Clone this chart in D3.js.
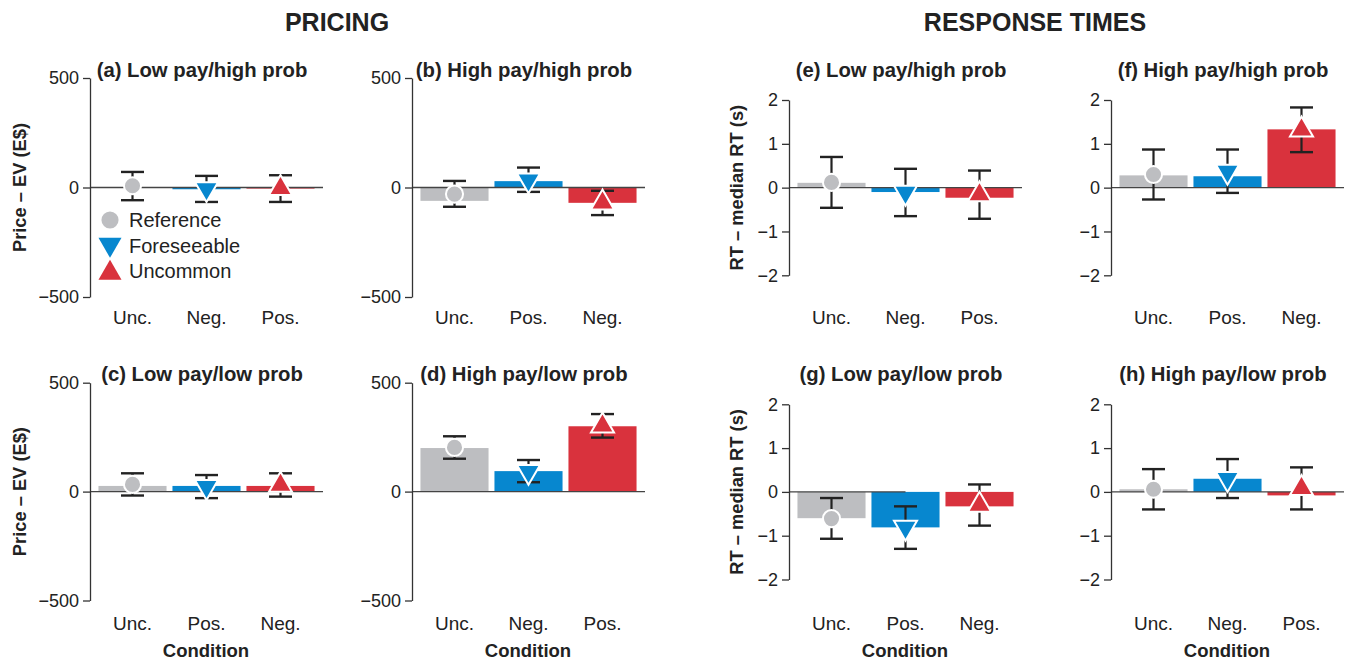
<!DOCTYPE html>
<html>
<head>
<meta charset="utf-8">
<script src="https://cdn.jsdelivr.net/npm/d3@7"></script>
<style>
  html, body { margin: 0; padding: 0; background: #fff; }
  svg { display: block; font-family: "Liberation Sans", Arial, Helvetica, sans-serif; }
</style>
</head>
<body>
<svg id="chart" width="1346" height="660"></svg>
<script>
// ---------------- DATA ----------------
const sectionTitles = ["PRICING", "RESPONSE TIMES"];
const seriesNames = ["Reference", "Foreseeable", "Uncommon"];
const panelTitles = [
  "(a) Low pay/high prob", "(b) High pay/high prob",
  "(c) Low pay/low prob",  "(d) High pay/low prob",
  "(e) Low pay/high prob", "(f) High pay/high prob",
  "(g) Low pay/low prob",  "(h) High pay/low prob"
];
const panelConditions = [
  ["Unc.", "Neg.", "Pos."], ["Unc.", "Pos.", "Neg."],
  ["Unc.", "Pos.", "Neg."], ["Unc.", "Neg.", "Pos."],
  ["Unc.", "Neg.", "Pos."], ["Unc.", "Pos.", "Neg."],
  ["Unc.", "Pos.", "Neg."], ["Unc.", "Neg.", "Pos."]
];
// bar heights (Reference, Foreseeable, Uncommon)
const barValues = [
  [2, -8, -5],       [-61, 29, -70],
  [26, 26, 26],      [200, 94, 300],
  [0.11, -0.10, -0.23], [0.28, 0.26, 1.33],
  [-0.60, -0.81, -0.33], [0.06, 0.30, -0.08]
];
// marker (mean) values
const meanValues = [
  [8, -6, -4],       [-30, 34, -70],
  [33, 23, 30],      [203, 92, 302],
  [0.12, -0.11, -0.16], [0.30, 0.37, 1.32],
  [-0.61, -0.81, -0.30], [0.06, 0.30, 0.08]
];
// error bar lower / upper ends
const ciLow = [
  [-58, -66, -66],   [-88, -20, -126],
  [-18, -30, -23],   [151, 43, 248],
  [-0.46, -0.65, -0.71], [-0.27, -0.12, 0.81],
  [-1.07, -1.30, -0.77], [-0.40, -0.14, -0.40]
];
const ciHigh = [
  [71, 53, 56],      [30, 91, -15],
  [84, 76, 84],      [254, 145, 356],
  [0.70, 0.43, 0.39], [0.87, 0.87, 1.83],
  [-0.14, -0.33, 0.17], [0.52, 0.75, 0.56]
];
const pricingDomain = [-500, 500];
const pricingTicks = [-500, 0, 500];
const rtDomain = [-2, 2];
const rtTicks = [-2, -1, 0, 1, 2];
const yLabels = ["Price – EV (E$)", "RT – median RT (s)"];
const xLabel = "Condition";
// zero line in panel (g) stops at the centre of this category
const zeroLineStop = [null, null, null, null, null, null, "Pos.", null];

// ---------------- STYLE ----------------
const colors = ["#bdbec1", "#0787cf", "#d9323d"];
const ink = "#222";

const svg = d3.select("#chart");

// section headers
[[337, 0], [1035, 1]].forEach(([cx, k]) => {
  svg.append("text").attr("x", cx).attr("y", 31)
    .attr("text-anchor", "middle").attr("font-weight", "bold")
    .attr("font-size", 25).attr("fill", ink).text(sectionTitles[k]);
});

const symbolTypes = [d3.symbolCircle, d3.symbolTriangle, d3.symbolTriangle];
const symbolRot = [0, 180, 0];
const symSize = 230;

panelTitles.forEach((title, i) => {
  const isPricing = i < 4;
  const col = i % 2;
  const row = Math.floor((i % 4) / 2);
  const ax = isPricing ? [90, 412][col] : [789, 1111][col];
  const yr = isPricing ? (row === 0 ? [297, 78] : [600.5, 382.7])
                       : (row === 0 ? [275.3, 100] : [579.5, 404.3]);
  const y = d3.scaleLinear().domain(isPricing ? pricingDomain : rtDomain).range(yr);
  const x = d3.scaleBand().domain(panelConditions[i])
    .range([ax + 5.5, ax + 227.5]).paddingInner(0.08).paddingOuter(0.04);
  const g = svg.append("g");

  // bars
  const bars = panelConditions[i].map((c, s) => ({
    c, s, v: barValues[i][s], m: meanValues[i][s], lo: ciLow[i][s], hi: ciHigh[i][s]
  }));
  g.selectAll("rect.bar").data(bars).join("rect")
    .attr("x", d => x(d.c)).attr("width", x.bandwidth())
    .attr("y", d => Math.min(y(d.v), y(0)))
    .attr("height", d => Math.abs(y(d.v) - y(0)))
    .attr("fill", d => colors[d.s]);

  // zero line
  const zEnd = zeroLineStop[i] ? x(zeroLineStop[i]) + x.bandwidth() / 2 : ax + 233;
  g.append("line").attr("x1", ax).attr("x2", zEnd)
    .attr("y1", y(0)).attr("y2", y(0))
    .attr("stroke", "#444").attr("stroke-width", 1.3);

  // y axis
  const yAxis = d3.axisLeft(y).tickValues(isPricing ? pricingTicks : rtTicks)
    .tickSize(7).tickSizeOuter(0).tickPadding(4).tickFormat(d3.format("d"));
  const ya = g.append("g").attr("transform", `translate(${ax},0)`).call(yAxis);
  ya.select(".domain").attr("stroke", "#333").attr("stroke-width", 1.3);
  ya.selectAll(".tick line").attr("stroke", "#333").attr("stroke-width", 1.3);
  ya.selectAll(".tick text").attr("font-size", 18).attr("fill", ink)
    .attr("font-family", "Liberation Sans, Arial, sans-serif");

  // x tick labels
  const xAxis = d3.axisBottom(x).tickSize(0).tickPadding(0);
  const xa = g.append("g").attr("transform", `translate(0,${row === 0 ? 310 : 616})`).call(xAxis);
  xa.select(".domain").remove();
  xa.selectAll(".tick text").attr("font-size", 19).attr("fill", ink)
    .attr("font-family", "Liberation Sans, Arial, sans-serif");

  // error bars
  const cw = 11.5;
  const eb = g.selectAll("g.err").data(bars).join("g")
    .attr("transform", d => `translate(${x(d.c) + x.bandwidth() / 2},0)`);
  eb.append("line").attr("x1", 0).attr("x2", 0)
    .attr("y1", d => y(d.lo)).attr("y2", d => y(d.hi))
    .attr("stroke", ink).attr("stroke-width", 2.2);
  eb.append("line").attr("x1", -cw).attr("x2", cw)
    .attr("y1", d => y(d.lo)).attr("y2", d => y(d.lo))
    .attr("stroke", ink).attr("stroke-width", 2.4);
  eb.append("line").attr("x1", -cw).attr("x2", cw)
    .attr("y1", d => y(d.hi)).attr("y2", d => y(d.hi))
    .attr("stroke", ink).attr("stroke-width", 2.4);

  // markers
  g.selectAll("path.mk").data(bars).join("path")
    .attr("d", d => d3.symbol().type(symbolTypes[d.s]).size(symSize)())
    .attr("transform", d => `translate(${x(d.c) + x.bandwidth() / 2},${y(d.m)}) rotate(${symbolRot[d.s]})`)
    .attr("fill", d => colors[d.s]).attr("stroke", "#fff").attr("stroke-width", 2);

  // panel title
  g.append("text").attr("x", ax + 112).attr("y", row === 0 ? 77 : 381)
    .attr("text-anchor", "middle").attr("font-weight", "bold")
    .attr("font-size", 20.3).attr("fill", ink).text(title);

  // y label
  if (col === 0) {
    const lx = isPricing ? 19 : 736;
    const ly = (yr[0] + yr[1]) / 2;
    g.append("text").attr("transform", `translate(${lx},${ly}) rotate(-90)`)
      .attr("text-anchor", "middle").attr("dominant-baseline", "central")
      .attr("font-weight", "bold").attr("font-size", 18.3).attr("fill", ink)
      .text(isPricing ? yLabels[0] : yLabels[1]);
  }

  // x label
  if (row === 1) {
    g.append("text").attr("x", ax + 116).attr("y", 657)
      .attr("text-anchor", "middle").attr("font-weight", "bold")
      .attr("font-size", 18.5).attr("fill", ink).text(xLabel);
  }

  // legend in panel (a)
  if (i === 0) {
    const lg = g.append("g");
    seriesNames.forEach((name, s) => {
      const ly = 220 + s * 25.5;
      lg.append("path")
        .attr("d", d3.symbol().type(symbolTypes[s]).size(symSize)())
        .attr("transform", `translate(110,${ly + (s === 0 ? 0 : (s === 1 ? -1 : 2))}) rotate(${symbolRot[s]})`)
        .attr("fill", colors[s]);
      lg.append("text").attr("x", 129).attr("y", ly)
        .attr("dominant-baseline", "central").attr("font-size", 20)
        .attr("fill", ink).text(name);
    });
  }
});
</script>
</body>
</html>
